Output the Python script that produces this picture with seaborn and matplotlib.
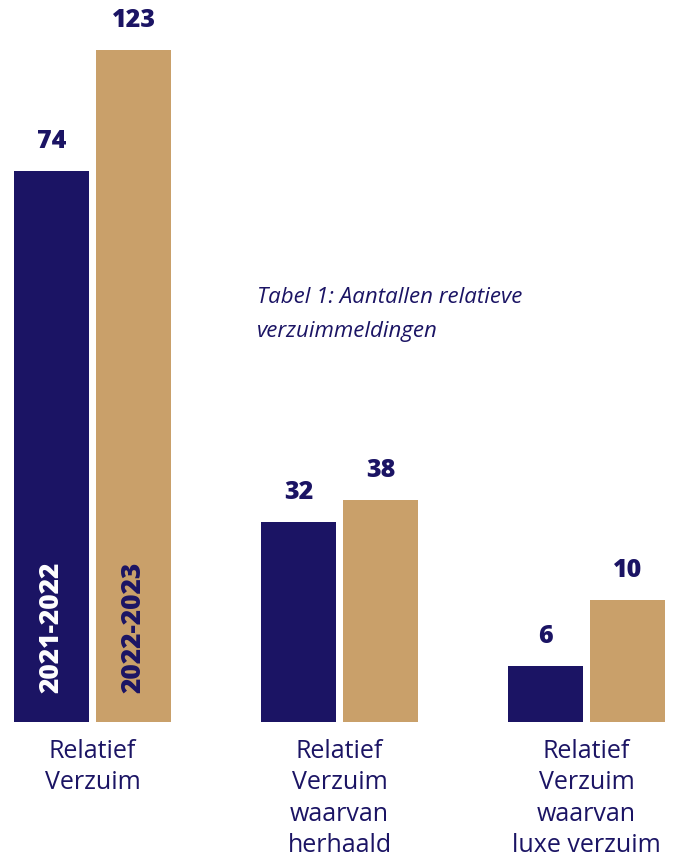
import pandas as pd
import seaborn as sns
import matplotlib.pyplot as plt

# -----------------------------------------------------------------------------
# Data
# -----------------------------------------------------------------------------
categories = ["Relatief\nVerzuim",
              "Relatief\nVerzuim\nwaarvan\nherhaald",
              "Relatief\nVerzuim\nwaarvan\nluxe verzuim"]
years = ["2021-2022", "2022-2023"]
counts_2122 = [74, 32, 6]
counts_2223 = [123, 38, 10]
# drawn bar lengths as they appear in the original (not proportional to counts)
bar_len_2122 = [551, 200, 56]
bar_len_2223 = [672, 222, 122]

NAVY = "#1b1464"
TAN = "#c9a06a"

df = pd.DataFrame({
    "categorie": categories * 2,
    "jaar": [years[0]] * 3 + [years[1]] * 3,
    "lengte": bar_len_2122 + bar_len_2223,
})

# -----------------------------------------------------------------------------
# Plot
# -----------------------------------------------------------------------------
sns.set_style("white")
plt.rcParams["font.family"] = ["Open Sans", "DejaVu Sans"]

fig = plt.figure(figsize=(6.87, 8.59), dpi=100)
ax = fig.add_axes([0, 137 / 859, 1, 722 / 859])

sns.barplot(data=df, x="categorie", y="lengte", hue="jaar",
            palette=[NAVY, TAN], width=0.664, gap=0.0854,
            legend=False, ax=ax, saturation=1, linewidth=0)

ax.set_ylim(0, 722)
ax.set_xlim(-92.5 / 247, (687 - 92.5) / 247)

# value labels above the bars
for cont, counts in zip(ax.containers, [counts_2122, counts_2223]):
    ax.bar_label(cont, labels=[str(c) for c in counts], padding=12,
                 fontsize=18, fontweight="heavy", color=NAVY,
                 family=["Open Sans", "DejaVu Sans"])

# year text inside the first pair of bars
for cont, year, col in zip(ax.containers, years, ["white", NAVY]):
    bar = cont.patches[0]
    ax.text(bar.get_x() + bar.get_width() / 2, 95, year, rotation=90,
            ha="center", va="center", fontsize=19, fontweight="heavy",
            color=col, family=["Open Sans", "DejaVu Sans"])

ax.set_xlabel("")
ax.set_ylabel("")
ax.set_yticks([])
ax.tick_params(axis="x", length=0, pad=12)
for lab in ax.get_xticklabels():
    lab.set_fontsize(18)
    lab.set_color(NAVY)
    lab.set_linespacing(1.34)
    lab.set_multialignment("center")
sns.despine(ax=ax, left=True, bottom=True)

fig.text(257 / 687, 1 - 287 / 859,
         "Tabel 1: Aantallen relatieve\nverzuimmeldingen",
         ha="left", va="top", fontsize=16, style="italic", color=NAVY,
         linespacing=1.8)

fig.savefig("out.png", dpi=100)
